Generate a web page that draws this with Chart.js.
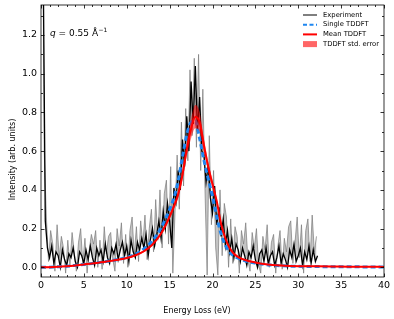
<!DOCTYPE html>
<html>
<head>
<meta charset="utf-8">
<script src="https://cdn.jsdelivr.net/npm/chart.js@4.4.1/dist/chart.umd.min.js"></script>
<style>
  html, body { margin: 0; padding: 0; background: #fff; }
  #wrap { width: 394px; height: 319px; }
</style>
</head>
<body>
<div id="wrap"><canvas id="lossChart" width="394" height="319"></canvas></div>
<script>
// Experiment (dense, black) - energy loss in eV
const expEnergy = [
  0, 0.25, 0.5, 0.75, 1, 1.25, 1.5, 1.75, 2, 2.25, 2.5, 2.75, 3, 3.25, 3.5, 3.75,
  4, 4.25, 4.5, 4.75, 5, 5.25, 5.5, 5.75, 6, 6.25, 6.5, 6.75, 7, 7.25, 7.5, 7.75,
  8, 8.25, 8.5, 8.75, 9, 9.25, 9.5, 9.75, 10, 10.25, 10.5, 10.75, 11, 11.25, 11.5, 11.75,
  12, 12.25, 12.5, 12.75, 13, 13.25, 13.5, 13.75, 14, 14.25, 14.5, 14.75, 15, 15.25, 15.5, 15.75,
  16, 16.25, 16.5, 16.75, 17, 17.25, 17.5, 17.75, 18, 18.25, 18.5, 18.75, 19, 19.25, 19.5, 19.75,
  20, 20.25, 20.5, 20.75, 21, 21.25, 21.5, 21.75, 22, 22.25, 22.5, 22.75, 23, 23.25, 23.5, 23.75,
  24, 24.25, 24.5, 24.75, 25, 25.25, 25.5, 25.75, 26, 26.25, 26.5, 26.75, 27, 27.25, 27.5, 27.75,
  28, 28.25, 28.5, 28.75, 29, 29.25, 29.5, 29.75, 30, 30.25, 30.5, 30.75, 31, 31.25, 31.5, 31.75,
  32, 32.25
];
const expIntensity = [
  3.0, 1.6, 0.24, 0.10, 0.05, 0.11, 0.02, 0.08, 0.06, 0.00, 0.09, 0.04, 0.01, 0.07, 0.05, 0.10,
  0.03, 0.00, 0.08, 0.06, 0.02, 0.09, 0.04, 0.11, 0.05, 0.01, 0.10, 0.06, 0.09, 0.03, 0.12, 0.05,
  0.02, 0.10, 0.07, 0.12, 0.04, 0.09, 0.13, 0.06, 0.11, 0.03, 0.14, 0.08, 0.05, 0.13, 0.09, 0.15,
  0.10, 0.17, 0.06, 0.14, 0.20, 0.11, 0.17, 0.24, 0.15, 0.29, 0.20, 0.33, 0.24, 0.10, 0.41, 0.34,
  0.50, 0.40, 0.66, 0.52, 0.78, 0.60, 0.96, 0.74, 1.04, 0.70, 0.88, 0.60, 0.58, 0.44, 0.53, 0.36,
  0.28, 0.42, 0.22, 0.31, 0.16, 0.25, 0.11, 0.19, 0.08, 0.15, 0.05, 0.12, 0.09, 0.03, 0.10, 0.06,
  0.01, 0.08, 0.05, 0.11, 0.04, 0.00, 0.07, 0.09, 0.03, 0.10, 0.02, 0.06, 0.08, 0.01, 0.05, 0.11,
  0.02, 0.07, 0.04, 0.00, 0.09, 0.05, 0.12, 0.03, 0.06, 0.10, 0.01, 0.08, 0.04, 0.11, 0.02, 0.09,
  0.03, 0.06
];

// Experiment raw scatter (grey, wider excursions), offset grid
const rawEnergy = [
  0.125, 0.375, 0.625, 0.875, 1.125, 1.375, 1.625, 1.875, 2.125, 2.375, 2.625, 2.875, 3.125, 3.375, 3.625, 3.875,
  4.125, 4.375, 4.625, 4.875, 5.125, 5.375, 5.625, 5.875, 6.125, 6.375, 6.625, 6.875, 7.125, 7.375, 7.625, 7.875,
  8.125, 8.375, 8.625, 8.875, 9.125, 9.375, 9.625, 9.875, 10.125, 10.375, 10.625, 10.875, 11.125, 11.375, 11.625, 11.875,
  12.125, 12.375, 12.625, 12.875, 13.125, 13.375, 13.625, 13.875, 14.125, 14.375, 14.625, 14.875, 15.125, 15.375, 15.625, 15.875,
  16.125, 16.375, 16.625, 16.875, 17.125, 17.375, 17.625, 17.875, 18.125, 18.375, 18.625, 18.875, 19.125, 19.375, 19.625, 19.875,
  20.125, 20.375, 20.625, 20.875, 21.125, 21.375, 21.625, 21.875, 22.125, 22.375, 22.625, 22.875, 23.125, 23.375, 23.625, 23.875,
  24.125, 24.375, 24.625, 24.875, 25.125, 25.375, 25.625, 25.875, 26.125, 26.375, 26.625, 26.875, 27.125, 27.375, 27.625, 27.875,
  28.125, 28.375, 28.625, 28.875, 29.125, 29.375, 29.625, 29.875, 30.125, 30.375, 30.625, 30.875, 31.125, 31.375, 31.625, 31.875,
  32.125
];
const rawIntensity = [
  2.5, 0.6, 0.26, 0.03, 0.19, 0.12, -0.02, 0.22, 0.05, 0.16, 0.10, -0.03, 0.14, 0.01, 0.18, 0.08,
  -0.02, 0.13, 0.20, 0.02, 0.15, -0.03, 0.09, 0.17, 0.12, 0.19, 0.00, 0.14, -0.01, 0.21, 0.07, 0.16,
  0.18, 0.04, -0.02, 0.20, 0.11, 0.23, 0.02, 0.17, 0.00, 0.19, 0.26, 0.06, 0.21, 0.03, 0.24, 0.12,
  0.27, 0.04, 0.20, 0.30, 0.08, 0.35, 0.14, 0.40, 0.10, 0.38, 0.45, 0.12, 0.52, -0.03, 0.28, 0.58,
  0.30, 0.75, 0.42, 0.82, 0.55, 1.02, 0.68, 1.08, 0.62, 1.10, 0.50, 0.92, 0.40, -0.04, 0.68, 0.22,
  0.50, 0.10, -0.04, 0.40, 0.06, 0.33, 0.26, 0.00, 0.25, 0.02, 0.21, 0.16, -0.03, 0.19, 0.12, 0.23,
  0.04, -0.02, 0.18, 0.10, 0.20, 0.01, -0.03, 0.16, 0.09, 0.22, 0.00, 0.13, 0.17, -0.03, 0.11, 0.19,
  -0.01, 0.15, 0.08, 0.21, 0.24, 0.02, 0.13, 0.26, 0.05, 0.22, -0.03, 0.19, 0.25, 0.03, 0.27, 0.08,
  0.16
];

// TDDFT calculations
const theoryEnergy = [
  0, 1, 2, 3, 4, 5, 6, 7, 8, 9, 10, 11, 12, 13, 14, 14.5, 15, 15.5, 16, 16.5, 17, 17.5, 18, 18.5,
  19, 19.5, 20, 20.5, 21, 21.5, 22, 22.5, 23, 24, 25, 26, 27, 28, 29, 30, 32, 34, 36, 38, 40
];
const singleTddft = [
  0.000, 0.001, 0.003, 0.006, 0.010, 0.015, 0.020, 0.026, 0.033, 0.041, 0.051, 0.067, 0.095, 0.138,
  0.203, 0.248, 0.299, 0.359, 0.448, 0.570, 0.685, 0.750, 0.755, 0.665, 0.553, 0.457, 0.367, 0.260,
  0.172, 0.115, 0.079, 0.058, 0.047, 0.031, 0.022, 0.015, 0.011, 0.008, 0.006, 0.005, 0.004, 0.003,
  0.003, 0.002, 0.002
];
const meanTddft = [
  0.000, 0.001, 0.003, 0.006, 0.010, 0.015, 0.020, 0.026, 0.032, 0.039, 0.048, 0.062, 0.083, 0.118,
  0.175, 0.215, 0.262, 0.315, 0.378, 0.478, 0.610, 0.715, 0.778, 0.750, 0.630, 0.520, 0.430, 0.340,
  0.225, 0.150, 0.100, 0.070, 0.053, 0.035, 0.025, 0.017, 0.012, 0.009, 0.007, 0.006, 0.005, 0.004,
  0.003, 0.003, 0.002
];
const meanTddftErr = [
  0.003, 0.003, 0.003, 0.003, 0.003, 0.003, 0.003, 0.004, 0.004, 0.004, 0.004, 0.005, 0.005, 0.006,
  0.008, 0.010, 0.012, 0.016, 0.020, 0.025, 0.035, 0.050, 0.060, 0.050, 0.035, 0.025, 0.020, 0.016,
  0.012, 0.010, 0.008, 0.006, 0.005, 0.004, 0.004, 0.003, 0.003, 0.003, 0.003, 0.003, 0.003, 0.003,
  0.003, 0.003, 0.003
];

const xTickValues = [0, 5, 10, 15, 20, 25, 30, 35, 40];
const xTickLabels = ['0', '5', '10', '15', '20', '25', '30', '35', '40'];
const yTickValues = [0, 0.2, 0.4, 0.6, 0.8, 1.0, 1.2];
const yTickLabels = ['0.0', '0.2', '0.4', '0.6', '0.8', '1.0', '1.2'];

const FONT = "'DejaVu Sans', sans-serif";

function toPoints(xs, ys) {
  return xs.map((x, i) => ({ x: x, y: ys[i] }));
}

const bandUpper = meanTddft.map((v, i) => v + meanTddftErr[i]);
const bandLower = meanTddft.map((v, i) => v - meanTddftErr[i]);

// inward ticks on all four sides + frame, like matplotlib
const frameTicks = {
  id: 'frameTicks',
  afterDatasetsDraw(chart) {
    const { ctx, chartArea: a, scales: { x, y } } = chart;
    ctx.save();
    ctx.strokeStyle = '#000';
    ctx.lineWidth = 0.8;
    ctx.strokeRect(a.left, a.top, a.right - a.left, a.bottom - a.top);
    ctx.beginPath();
    for (let v = 0; v <= 40; v += 1) {
      const len = v % 5 === 0 ? 3.5 : 2;
      const px = Math.round(x.getPixelForValue(v)) + 0.5;
      ctx.moveTo(px, a.bottom); ctx.lineTo(px, a.bottom - len);
      ctx.moveTo(px, a.top); ctx.lineTo(px, a.top + len);
    }
    for (let i = 0; i <= 13; i++) {
      const len = i % 2 === 0 ? 3.5 : 2;
      const py = Math.round(y.getPixelForValue(i / 10)) + 0.5;
      ctx.moveTo(a.left, py); ctx.lineTo(a.left + len, py);
      ctx.moveTo(a.right, py); ctx.lineTo(a.right - len, py);
    }
    ctx.stroke();
    ctx.restore();
  },
  afterDraw(chart) {
    const { ctx, chartArea: a } = chart;
    const ds = chart.data.datasets;
    ctx.save();

    // axis titles, centred on the figure
    ctx.fillStyle = '#000';
    ctx.font = '8px ' + FONT;
    ctx.textAlign = 'center';
    ctx.textBaseline = 'middle';
    ctx.fillText('Energy Loss (eV)', chart.width / 2, 311);
    ctx.save();
    ctx.translate(13, chart.height / 2);
    ctx.rotate(-Math.PI / 2);
    ctx.fillText('Intensity (arb. units)', 0, 0);
    ctx.restore();

    // q annotation
    ctx.textAlign = 'left';
    ctx.textBaseline = 'alphabetic';
    let tx = a.left + 9;
    const ty = a.top + 31;
    ctx.font = 'italic 9px ' + FONT;
    ctx.fillText('q', tx, ty);
    tx += ctx.measureText('q').width;
    ctx.font = '9px ' + FONT;
    const mid = ' = 0.55 Å';
    ctx.fillText(mid, tx, ty);
    tx += ctx.measureText(mid).width;
    ctx.font = '6px ' + FONT;
    ctx.fillText('\u22121', tx + 0.5, ty - 4);

    // legend
    const entries = [
      { label: ds[0].label, kind: 'line', color: '#7f7f7f', dash: [] },
      { label: ds[2].label, kind: 'line', color: ds[2].borderColor, dash: [4, 2.5] },
      { label: ds[3].label, kind: 'line', color: ds[3].borderColor, dash: [] },
      { label: ds[4].label, kind: 'patch', color: 'rgba(255,0,0,0.6)' }
    ];
    const x0 = a.right - 81;
    const x1 = a.right - 67;
    ctx.font = '6.8px ' + FONT;
    ctx.textBaseline = 'middle';
    entries.forEach((e, i) => {
      const yy = a.top + 10 + i * 9.7;
      if (e.kind === 'line') {
        ctx.strokeStyle = e.color;
        ctx.lineWidth = 2;
        ctx.setLineDash(e.dash);
        ctx.beginPath();
        ctx.moveTo(x0, yy); ctx.lineTo(x1, yy);
        ctx.stroke();
        ctx.setLineDash([]);
      } else {
        ctx.fillStyle = e.color;
        ctx.fillRect(x0, yy - 3, x1 - x0, 6);
      }
      ctx.fillStyle = '#000';
      ctx.fillText(e.label, a.right - 61, yy);
    });
    ctx.restore();
  }
};

new Chart(document.getElementById('lossChart'), {
  type: 'line',
  data: {
    datasets: [
      {
        label: 'Experiment',
        data: toPoints(rawEnergy, rawIntensity),
        borderColor: 'rgba(120,120,120,0.75)',
        backgroundColor: 'rgba(140,140,140,0.5)',
        borderWidth: 0.9,
        pointRadius: 0,
        tension: 0,
        fill: '+1',
        order: 6
      },
      {
        label: 'Experiment (black)',
        data: toPoints(expEnergy, expIntensity),
        borderColor: '#000',
        borderWidth: 1.3,
        pointRadius: 0,
        tension: 0,
        order: 5
      },
      {
        label: 'Single TDDFT',
        data: toPoints(theoryEnergy, singleTddft),
        borderColor: '#1f86f0',
        borderWidth: 3,
        borderDash: [5, 3],
        pointRadius: 0,
        cubicInterpolationMode: 'monotone',
        order: 4
      },
      {
        label: 'Mean TDDFT',
        data: toPoints(theoryEnergy, meanTddft),
        borderColor: '#ff0000',
        borderWidth: 2,
        pointRadius: 0,
        cubicInterpolationMode: 'monotone',
        order: 3
      },
      {
        label: 'TDDFT std. error',
        data: toPoints(theoryEnergy, bandUpper),
        borderWidth: 0,
        borderColor: 'rgba(0,0,0,0)',
        backgroundColor: 'rgba(255,0,0,0.55)',
        pointRadius: 0,
        cubicInterpolationMode: 'monotone',
        fill: '+1',
        order: 2
      },
      {
        label: 'TDDFT std. error (lower)',
        data: toPoints(theoryEnergy, bandLower),
        borderWidth: 0,
        borderColor: 'rgba(0,0,0,0)',
        pointRadius: 0,
        cubicInterpolationMode: 'monotone',
        fill: false,
        order: 1
      }
    ]
  },
  options: {
    responsive: false,
    animation: false,
    events: [],
    layout: { padding: { top: 5, right: 10, left: 0, bottom: 0 } },
    plugins: {
      legend: { display: false },
      tooltip: { enabled: false }
    },
    scales: {
      x: {
        type: 'linear',
        min: 0,
        max: 40,
        grid: { display: false, drawTicks: false },
        border: { display: false },
        afterBuildTicks: (scale) => { scale.ticks = xTickValues.map(v => ({ value: v })); },
        afterFit: (scale) => {
          scale.height = 42;
          scale.paddingLeft = 0;
          scale.paddingRight = 0;
        },
        ticks: {
          color: '#000',
          font: { family: FONT, size: 9.5 },
          padding: 3,
          maxRotation: 0,
          autoSkip: false,
          callback: (val, idx) => xTickLabels[idx]
        }
      },
      y: {
        type: 'linear',
        min: -0.05,
        max: 1.355,
        grid: { display: false, drawTicks: false },
        border: { display: false },
        afterBuildTicks: (scale) => { scale.ticks = yTickValues.map(v => ({ value: v })); },
        afterFit: (scale) => {
          scale.width = 41;
          scale.paddingTop = 0;
          scale.paddingBottom = 0;
        },
        ticks: {
          color: '#000',
          font: { family: FONT, size: 9.5 },
          padding: 4,
          autoSkip: false,
          callback: (val, idx) => yTickLabels[idx]
        }
      }
    }
  },
  plugins: [frameTicks]
});
</script>
</body>
</html>
